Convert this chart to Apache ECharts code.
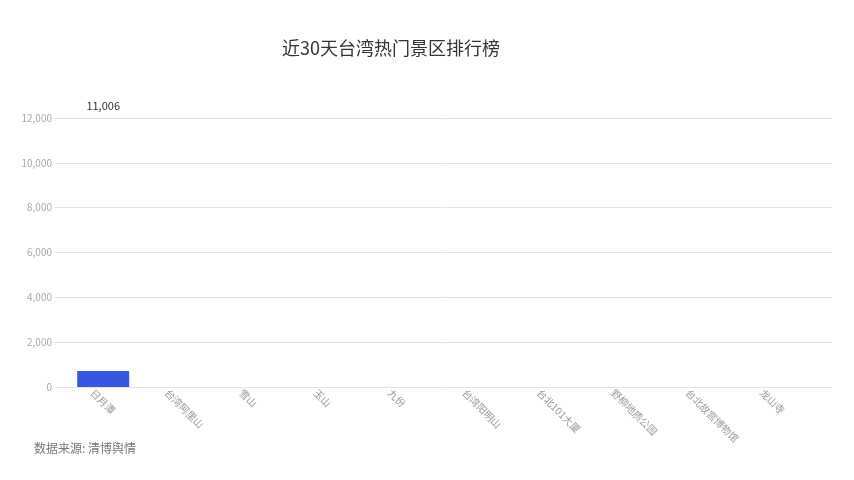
<!DOCTYPE html>
<html>
<head>
<meta charset="UTF-8">
<title>近30天台湾热门景区排行榜</title>
<script src="https://cdn.jsdelivr.net/npm/echarts@6/dist/echarts.min.js"></script>
<style>
  html, body { margin: 0; padding: 0; background: #fff; }
  #main { width: 854px; height: 480px; }
</style>
</head>
<body>
<div id="main"></div>
<script>
  // 景区名称
  var spots = ['日月潭', '台湾阿里山', '雪山', '玉山', '九份', '台湾阳明山', '台北101大厦', '野柳地质公园', '台北故宫博物馆', '龙山寺'];
  // 柱子当前显示的高度（截图时动画未完成）
  var barValues = [710, 0, 0, 0, 0, 0, 0, 0, 0, 0];
  // 数据标签上的数值
  var labelValues = [11006, null, null, null, null, null, null, null, null, null];
  var yTicks = [0, 2000, 4000, 6000, 8000, 10000, 12000];

  function fmt(v) {
    return String(v).replace(/\B(?=(\d{3})+(?!\d))/g, ',');
  }

  var yMin = yTicks[0], yMax = yTicks[yTicks.length - 1], yStep = yTicks[1] - yTicks[0];

  var myChart = echarts.init(document.getElementById('main'));
  var option = {
    animation: false,
    textStyle: { fontFamily: '"Noto Sans CJK SC", "Noto Sans", sans-serif' },
    title: {
      text: '近30天台湾热门景区排行榜',
      left: 282,
      top: 39,
      padding: 0,
      textStyle: { fontSize: 18, fontWeight: 'normal', color: '#333' }
    },
    graphic: [{
      type: 'text',
      left: 34,
      top: 442,
      style: {
        text: '数据来源: 清博舆情',
        fontSize: 12,
        fill: '#777',
        fontFamily: '"Noto Sans CJK SC", sans-serif'
      }
    }],
    // grid 0: 网格线（整宽）；grid 1: 分类轴标签；grid 2: 柱子（略向右偏）
    grid: [
      { left: 55, right: 22, top: 118, bottom: 93 },
      { left: 55, width: 744, top: 118, bottom: 93 },
      { left: 66, width: 744, top: 118, bottom: 93 }
    ],
    xAxis: [{
      gridIndex: 0,
      type: 'value',
      show: false
    }, {
      gridIndex: 1,
      type: 'category',
      data: spots,
      axisLine: { show: false },
      axisTick: { show: false },
      axisLabel: { rotate: -45, margin: 4, fontSize: 10, color: '#999', interval: 0 }
    }, {
      gridIndex: 2,
      type: 'category',
      data: spots,
      show: false
    }],
    yAxis: [{
      gridIndex: 0,
      type: 'value',
      min: yMin,
      max: yMax,
      interval: yStep,
      axisLine: { show: false },
      axisTick: { show: false },
      axisLabel: { margin: 3, fontSize: 10, color: '#aaa', formatter: fmt },
      splitLine: { lineStyle: { color: '#e4e4e4' } }
    }, {
      gridIndex: 1,
      type: 'value',
      min: yMin,
      max: yMax,
      interval: yStep,
      show: false,
      splitLine: { show: false }
    }, {
      gridIndex: 2,
      type: 'value',
      min: yMin,
      max: yMax,
      interval: yStep,
      show: false,
      splitLine: { show: false }
    }],
    series: [{
      name: '热度',
      type: 'bar',
      xAxisIndex: 2,
      yAxisIndex: 2,
      data: barValues,
      barWidth: 52,
      itemStyle: { color: '#3656e6' }
    }, {
      name: '标签',
      type: 'bar',
      xAxisIndex: 2,
      yAxisIndex: 2,
      data: labelValues,
      barWidth: 52,
      barGap: '-100%',
      silent: true,
      itemStyle: { color: 'rgba(0,0,0,0)' },
      label: {
        show: true,
        position: 'top',
        distance: 5,
        offset: [0, -24],
        fontSize: 11,
        color: '#333',
        formatter: function (p) { return fmt(p.value); }
      }
    }]
  };
  myChart.setOption(option);
</script>
</body>
</html>
